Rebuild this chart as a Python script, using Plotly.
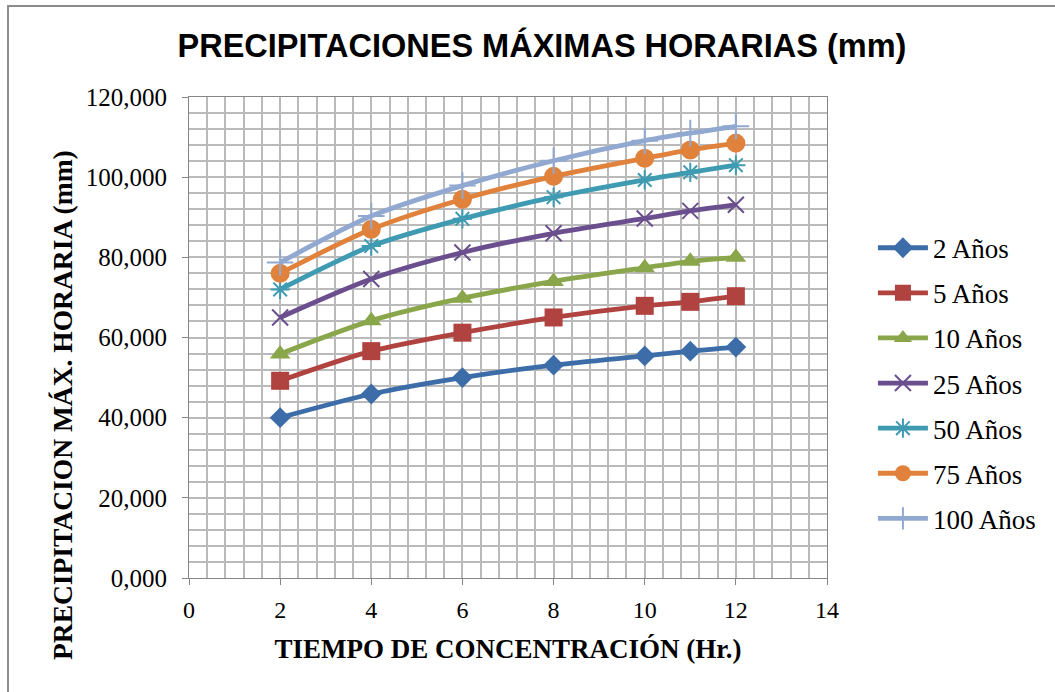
import plotly.graph_objects as go

tiempo = [2, 4, 6, 8, 10, 11, 12]
p2 = [40.0, 45.9, 50.0, 53.1, 55.4, 56.6, 57.6]
p5 = [49.2, 56.6, 61.2, 65.0, 67.9, 68.9, 70.3]
p10 = [55.9, 64.2, 69.8, 74.0, 77.4, 79.0, 80.0]
p25 = [65.0, 74.6, 81.2, 86.0, 89.7, 91.6, 93.1]
p50 = [72.0, 82.8, 89.6, 95.0, 99.3, 101.2, 103.0]
p75 = [76.0, 87.0, 94.5, 100.2, 104.7, 106.8, 108.5]
p100 = [78.7, 90.3, 97.9, 104.1, 109.1, 111.0, 112.7]

series = [
    ("2 Años", p2, "#3D6DA8", "diamond", 16),
    ("5 Años", p5, "#B0423F", "square", 18),
    ("10 Años", p10, "#8AA64A", "triangle-up", 18),
    ("25 Años", p25, "#6A4E8E", "x-thin-open", 16),
    ("50 Años", p50, "#3E9BB2", "asterisk-open", 16),
    ("75 Años", p75, "#E0823B", "circle", 19),
    ("100 Años", p100, "#91A9D1", "cross-thin-open", 19),
]

fig = go.Figure()
for i, (name, vals, color, sym, size) in enumerate(series):
    fig.add_trace(go.Scatter(
        x=tiempo, y=vals, name=name, mode="lines+markers",
        line=dict(color=color, width=4.8, shape="spline", smoothing=0.8),
        marker=dict(symbol=sym, size=size, color=color,
                    line=dict(color=color, width=2 if "open" in sym else 0)),
        legendgroup=name,
    ))

serif = "Liberation Serif, Times New Roman, serif"
grid = "#BABABA"
fig.update_layout(
    width=1055, height=692,
    margin=dict(l=189, r=228, t=97, b=114),
    paper_bgcolor="white", plot_bgcolor="white",
    separators=",.",
    title=dict(text="<b>PRECIPITACIONES MÁXIMAS HORARIAS (mm)</b>",
               x=542/1055, xanchor="center", y=1-46/692, yanchor="middle",
               font=dict(family="Liberation Sans, Arial, sans-serif", size=32.5, color="black")),
    legend=dict(x=1.072, y=0.405, xanchor="left", yanchor="middle",
                font=dict(family=serif, size=27, color="black"),
                tracegroupgap=7, itemwidth=50, bgcolor="rgba(0,0,0,0)"),
    showlegend=True,
)
fig.update_xaxes(
    range=[0, 14], dtick=2, tick0=0,
    showline=True, linecolor="#868686", linewidth=1,
    ticks="outside", ticklen=6, tickcolor="#868686",
    showgrid=True, gridcolor=grid, gridwidth=1.5,
    minor=dict(dtick=0.4, showgrid=True, gridcolor=grid, gridwidth=1.5),
    zeroline=False, mirror=True,
    tickfont=dict(family=serif, size=24, color="black"),
    ticklabelstandoff=4,
    title=dict(text="<b>TIEMPO DE CONCENTRACIÓN (Hr.)</b>", standoff=17,
               font=dict(family=serif, size=27, color="black")),
)
fig.update_yaxes(
    range=[0, 120], dtick=20, tick0=0, tickformat=".3f",
    showline=True, linecolor="#868686", linewidth=1,
    ticks="outside", ticklen=6, tickcolor="#868686",
    showgrid=True, gridcolor=grid, gridwidth=1.5,
    minor=dict(dtick=4, showgrid=True, gridcolor=grid, gridwidth=1.5),
    zeroline=False, mirror=True,
    tickfont=dict(family=serif, size=25, color="black"),
    ticklabelstandoff=10,
)
fig.add_annotation(
    text="<b>PRECIPITACION MÁX. HORARIA (mm)</b>", textangle=-90,
    xref="paper", yref="paper", x=(62-189)/638, y=(578-405)/481,
    xanchor="center", yanchor="middle", showarrow=False,
    font=dict(family=serif, size=27.5, color="black"),
)
fig.add_shape(type="rect", xref="paper", yref="paper",
              x0=(8-189)/638, x1=1.5, y0=-0.5, y1=(578-6)/481,
              line=dict(color="#8C8C8C", width=2), fillcolor="rgba(0,0,0,0)", layer="below")
fig.write_html("out.html")
